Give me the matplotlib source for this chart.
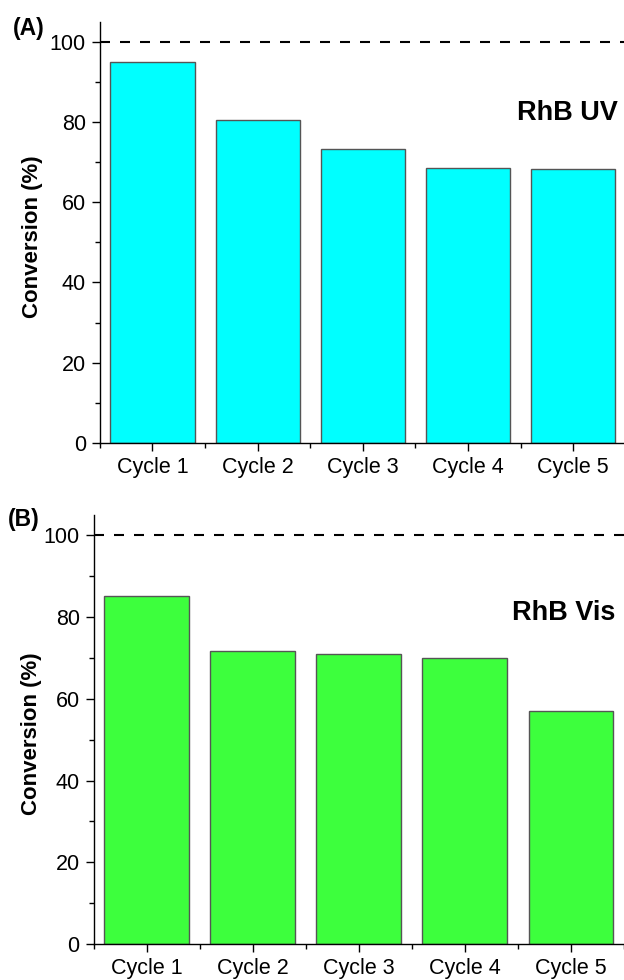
import numpy as np
import matplotlib
matplotlib.use('Agg')
from matplotlib import pyplot as plt
from matplotlib.ticker import MultipleLocator, FixedLocator

rc_fonts = {
    'font.family': ['Liberation Sans', 'DejaVu Sans'],
    'xtick.direction': 'out',
    'ytick.direction': 'out',
    'xtick.labelsize': 15.5,
    'ytick.labelsize': 15.5,
    'axes.linewidth': 1.0,
}
matplotlib.rcParams.update(rc_fonts)

cycles = ['Cycle 1', 'Cycle 2', 'Cycle 3', 'Cycle 4', 'Cycle 5']
uv_conv = [94.8, 80.4, 73.2, 68.5, 68.3]
vis_conv = [85.2, 71.8, 71.0, 70.0, 57.0]
ref_level = 100

fig = plt.figure(figsize=(6.24, 9.8), dpi=100)
ax1 = fig.add_axes([0.160, 0.548, 0.843, 0.430])
ax2 = fig.add_axes([0.150, 0.0367, 0.850, 0.4378])

panels = [
    (ax1, uv_conv, '#00FFFF', 'RhB UV', '(A)', 82.3, -0.108, (0.020, 0.971)),
    (ax2, vis_conv, '#3DFF3D', 'RhB Vis', '(B)', 81.1, -0.098, (0.012, 0.470)),
]

for ax, vals, col, name, tag, ty, lx, tagpos in panels:
    x = np.arange(1, len(cycles) + 1)
    ax.bar(x, vals, width=0.8, color=col, edgecolor='#555555', linewidth=1.0, zorder=2)
    ax.axhline(ref_level, color='black', linewidth=1.5, dashes=(4.8, 4.8), zorder=3)
    ax.set_xlim(0.5, 5.5)
    ax.set_ylim(0, 105)
    ax.set_xticks(x)
    ax.set_xticklabels(cycles)
    ax.xaxis.set_minor_locator(FixedLocator(np.arange(0.5, 6.0, 1.0)))
    ax.yaxis.set_major_locator(MultipleLocator(20))
    ax.yaxis.set_minor_locator(MultipleLocator(10))
    ax.tick_params(which='major', length=6, width=1.0, pad=4)
    ax.tick_params(which='minor', length=3.5, width=1.0)
    ax.spines['right'].set_visible(False)
    ax.spines['top'].set_visible(False)
    ax.set_ylabel('Conversion (%)', fontsize=16, fontweight='bold')
    ax.yaxis.set_label_coords(lx, 0.49)
    ax.text(5.42, ty, name, fontsize=19.5, fontweight='bold', ha='right', va='center')
    fig.text(tagpos[0], tagpos[1], tag, fontsize=16.5, fontweight='bold', ha='left', va='center')

fig.savefig('out.png', dpi=100)
